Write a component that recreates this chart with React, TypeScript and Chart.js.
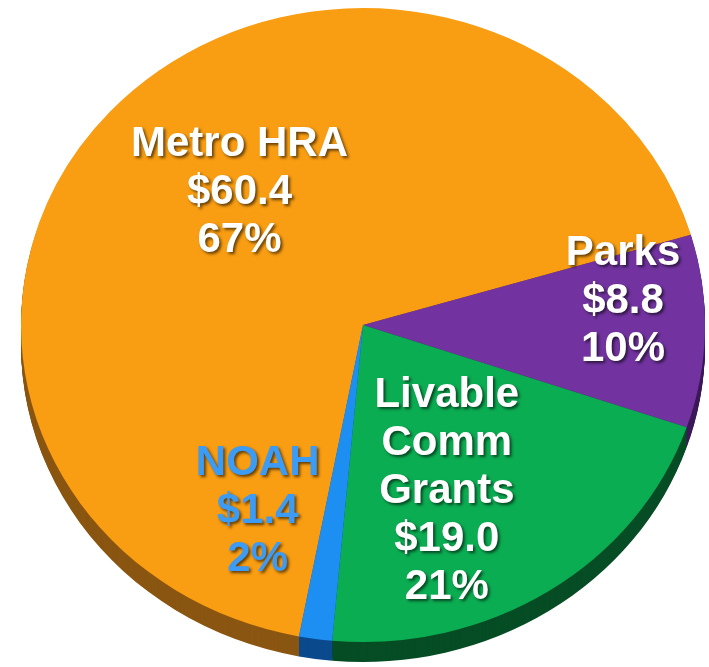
import React, { useEffect, useRef } from "react";
import { Chart, registerables } from "chart.js";

Chart.register(...registerables);

// ---- data ----
const categories: string[][] = [["Metro HRA"], ["Parks"], ["Livable", "Comm", "Grants"], ["NOAH"]];
const amounts: number[] = [60.4, 8.8, 19.0, 1.4];

// ---- styles ----
const sliceColors = ["#F99D12", "#7233A0", "#0BAD52", "#1E8FF2"];
const sideColors = ["#8A5612", "#3E1A5A", "#064D25", "#0B4A8C"];
const textColors = ["#FFFFFF", "#FFFFFF", "#FFFFFF", "#3C9CF5"];

const RX = 342;
const RY = 317;
const SY = RY / RX;
const DEPTH = 20;
const FONT = "bold 42px 'Liberation Sans', Arial, sans-serif";
const LINE_H = 48;

// label placement relative to each slice's mid angle (deg) and radius fraction
const labelPlacement = [
  { dAngle: 7.1, r: 0.553 },
  { dAngle: -6.8, r: 0.764 },
  { dAngle: 8.0, r: 0.58 },
  { dAngle: 19.7, r: 0.663 },
];

const pie3d = {
  id: "pie3d",
  beforeDatasetsDraw(chart: any) {
    const ctx = chart.ctx as CanvasRenderingContext2D;
    const arcs = chart.getDatasetMeta(0).data as any[];
    for (let d = DEPTH; d >= 1; d--) {
      arcs.forEach((arc, i) => {
        ctx.save();
        ctx.translate(arc.x, arc.y + d);
        ctx.scale(1, SY);
        ctx.beginPath();
        ctx.moveTo(0, 0);
        ctx.arc(0, 0, arc.outerRadius, arc.startAngle, arc.endAngle);
        ctx.closePath();
        ctx.fillStyle = sideColors[i];
        ctx.fill();
        ctx.restore();
      });
    }
    const cx = arcs[0].x;
    const cy = arcs[0].y;
    ctx.save();
    ctx.translate(cx, cy);
    ctx.scale(1, SY);
    ctx.translate(-cx, -cy);
  },
  afterDatasetsDraw(chart: any) {
    const ctx = chart.ctx as CanvasRenderingContext2D;
    ctx.restore();
    const arcs = chart.getDatasetMeta(0).data as any[];
    const values = chart.data.datasets[0].data as number[];
    const total = values.reduce((a, b) => a + b, 0);
    const labels = chart.data.labels as string[][];
    arcs.forEach((arc, i) => {
      const pl = labelPlacement[i];
      const mid = (arc.startAngle + arc.endAngle) / 2 + (pl.dAngle * Math.PI) / 180;
      const r = arc.outerRadius * pl.r;
      const lx = arc.x + Math.cos(mid) * r;
      const ly = arc.y + Math.sin(mid) * r * SY;
      const lines = [
        ...labels[i],
        "$" + values[i].toFixed(1),
        Math.round((values[i] / total) * 100) + "%",
      ];
      ctx.save();
      ctx.font = FONT;
      ctx.textAlign = "center";
      ctx.textBaseline = "middle";
      ctx.fillStyle = textColors[i];
      ctx.shadowColor = "rgba(0,0,0,0.6)";
      ctx.shadowOffsetX = 2;
      ctx.shadowOffsetY = 2;
      ctx.shadowBlur = 3;
      const top = ly - ((lines.length - 1) * LINE_H) / 2;
      lines.forEach((ln, k) => ctx.fillText(ln, lx, top + k * LINE_H));
      ctx.restore();
    });
  },
};

export default function App() {
  const ref = useRef<HTMLCanvasElement>(null);
  useEffect(() => {
    if (!ref.current) return;
    const chart = new Chart(ref.current, {
      type: "pie",
      data: {
        labels: categories,
        datasets: [
          {
            data: amounts,
            backgroundColor: sliceColors,
            borderWidth: 0,
            radius: RX,
            clip: false,
          } as any,
        ],
      },
      options: {
        responsive: false,
        animation: false,
        rotation: 190.8,
        layout: { padding: { left: 17, right: 0, top: 0, bottom: 17 } },
        plugins: {
          legend: { display: false },
          tooltip: { enabled: false },
        },
      },
      plugins: [pie3d],
    });
    return () => chart.destroy();
  }, []);
  return (
    <div style={{ position: "fixed", left: 0, top: 0, width: 709, height: 667, background: "#fff" }}>
      <canvas ref={ref} width={709} height={667} style={{ display: "block" }} />
    </div>
  );
}
